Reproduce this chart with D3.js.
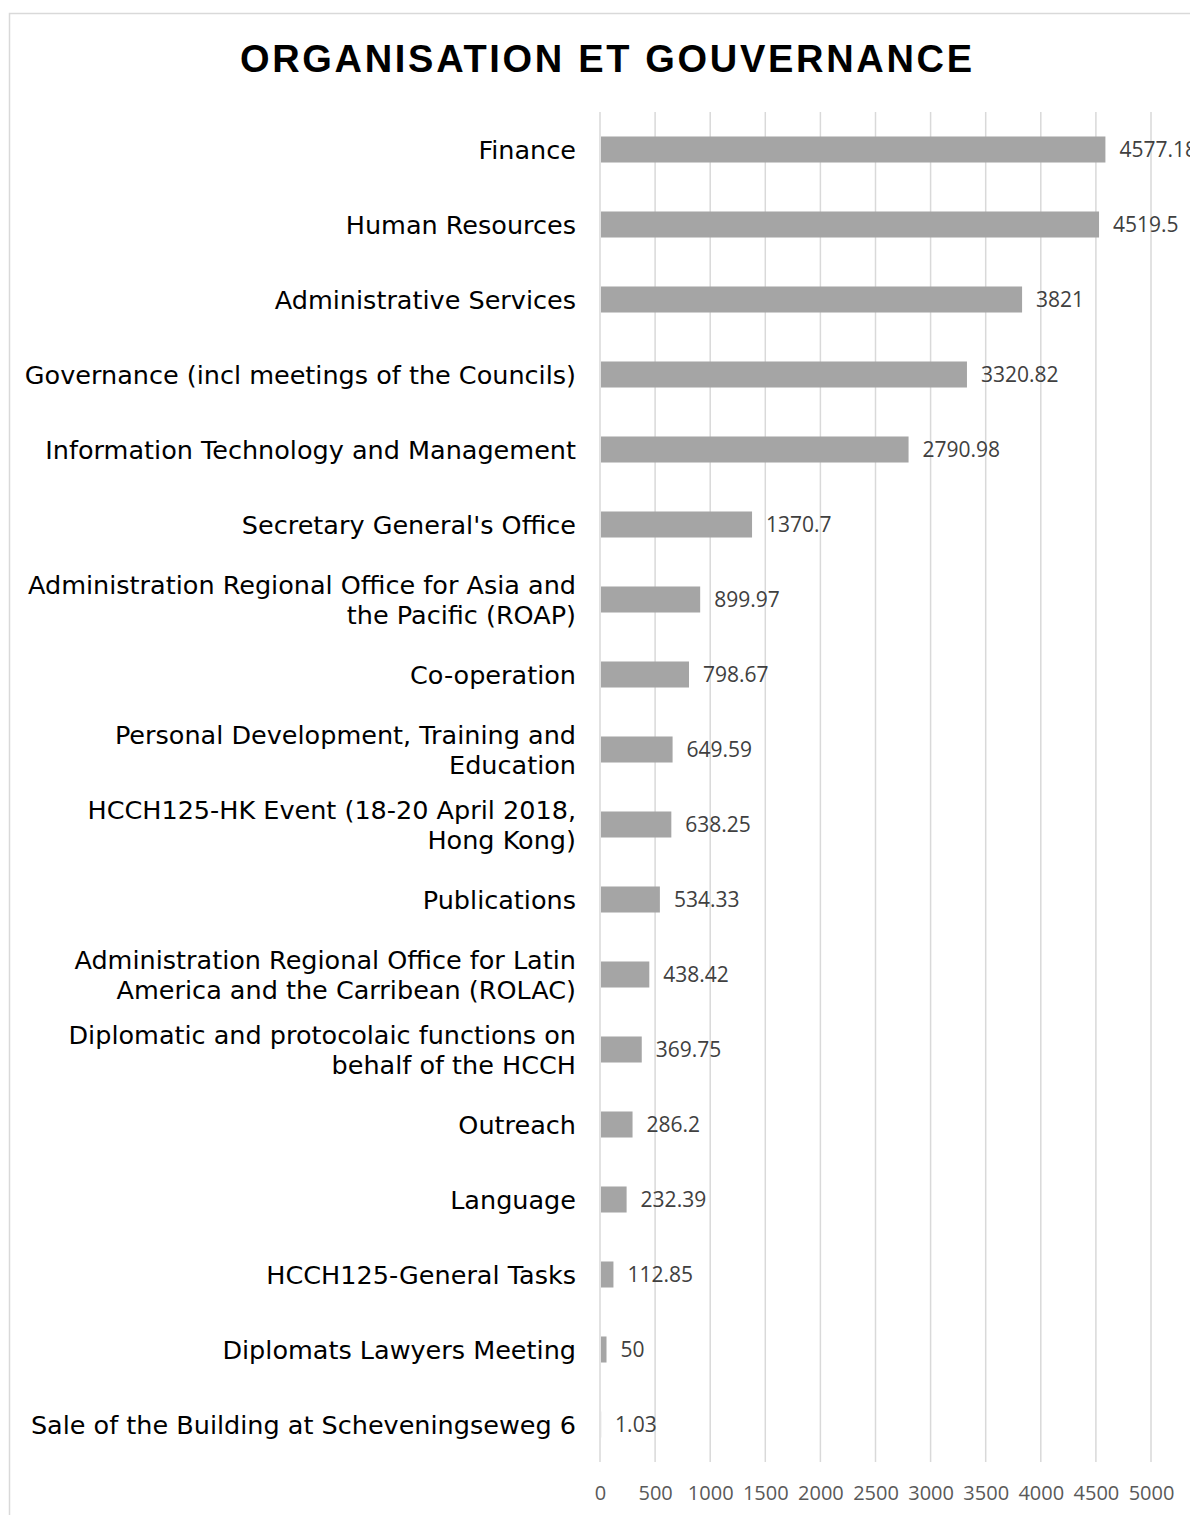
<!DOCTYPE html>
<html>
<head>
<meta charset="utf-8">
<script src="https://cdn.jsdelivr.net/npm/d3@7"></script>
<style>
  body { margin: 0; background: #fff; }
  svg { display: block; }
</style>
</head>
<body>
<svg id="chart"></svg>
<script>
// Chart data, top to bottom
const categories = [
    "Finance",
    "Human Resources",
    "Administrative Services",
    "Governance (incl meetings of the Councils)",
    "Information Technology and Management",
    "Secretary General's Office",
    "Administration Regional Office for Asia and\nthe Pacific (ROAP)",
    "Co-operation",
    "Personal Development, Training and\nEducation",
    "HCCH125-HK Event (18-20 April 2018,\nHong Kong)",
    "Publications",
    "Administration Regional Office for Latin\nAmerica and the Carribean (ROLAC)",
    "Diplomatic and protocolaic functions on\nbehalf of the HCCH",
    "Outreach",
    "Language",
    "HCCH125-General Tasks",
    "Diplomats Lawyers Meeting",
    "Sale of the Building at Scheveningseweg 6"
];
const values = [4577.18, 4519.5, 3821, 3320.82, 2790.98, 1370.7, 899.97, 798.67, 649.59,
    638.25, 534.33, 438.42, 369.75, 286.2, 232.39, 112.85, 50, 1.03];
const xTicks = [0, 500, 1000, 1500, 2000, 2500, 3000, 3500, 4000, 4500, 5000];
const title = "ORGANISATION ET GOUVERNANCE";

const W = 1190, H = 1515;
const plot = { left: 600, right: 1151, top: 112, bottom: 1462 };

const svg = d3.select("#chart").attr("width", W).attr("height", H);

// outer chart border (cut off at right and bottom)
svg.append("rect")
    .attr("x", 9.5).attr("y", 13.5)
    .attr("width", 1400).attr("height", 1700)
    .attr("fill", "#fff")
    .attr("stroke", "#d9d9d9")
    .attr("stroke-width", 1.5);

// title
svg.append("text")
    .attr("x", 606).attr("y", 72)
    .attr("text-anchor", "middle")
    .style("font-family", "'Liberation Sans', Arial, sans-serif")
    .style("font-weight", "bold")
    .style("font-size", "38px")
    .attr("textLength", 732)
    .attr("lengthAdjust", "spacing")
    .text(title);

// scales
const x = d3.scaleLinear().domain([0, 5000]).range([plot.left, plot.right]);
const y = d3.scaleBand().domain(categories).range([plot.top, plot.bottom]).paddingInner(0.653).paddingOuter(0.3265);

// gridlines
svg.append("g")
    .selectAll("line")
    .data(xTicks)
    .join("line")
    .attr("x1", d => x(d)).attr("x2", d => x(d))
    .attr("y1", plot.top).attr("y2", plot.bottom)
    .attr("stroke", "#d9d9d9")
    .attr("stroke-width", 1.5);

// x tick labels
const xAxis = svg.append("g")
    .attr("transform", `translate(0,${plot.bottom})`)
    .call(d3.axisBottom(x).tickValues(xTicks).tickFormat(d3.format("d")).tickSize(0).tickPadding(24));
xAxis.select(".domain").remove();
xAxis.selectAll("text")
    .style("font-family", "'Open Sans', sans-serif")
    .style("font-size", "20px")
    .attr("fill", "#595959");

// bars
svg.append("g")
    .selectAll("rect")
    .data(values)
    .join("rect")
    .attr("x", x(0) + 1)
    .attr("y", (d, i) => y(categories[i]))
    .attr("width", d => Math.max(0, x(d) - x(0)))
    .attr("height", y.bandwidth())
    .attr("fill", "#a5a5a5");

// data labels
svg.append("g")
    .selectAll("text")
    .data(values)
    .join("text")
    .attr("x", d => x(d) + 15)
    .attr("y", (d, i) => y(categories[i]) + y.bandwidth() / 2)
    .attr("dy", "0.36em")
    .style("font-family", "'Open Sans', sans-serif")
    .style("font-size", "21px")
    .attr("fill", "#404040")
    .text(d => d);

// category labels (right aligned, manual line breaks)
const labels = svg.append("g")
    .selectAll("text")
    .data(categories)
    .join("text")
    .attr("text-anchor", "end")
    .style("font-family", "'DejaVu Sans', sans-serif")
    .style("font-size", "25.5px")
    .attr("fill", "#000");

labels.each(function (d) {
    const lines = d.split("\n");
    const cy = y(d) + y.bandwidth() / 2;
    const lh = 30;
    d3.select(this).selectAll("tspan")
        .data(lines)
        .join("tspan")
        .attr("x", 576)
        .attr("y", (l, j) => cy + (j - (lines.length - 1) / 2) * lh)
        .attr("dy", "0.36em")
        .text(l => l);
});
</script>
</body>
</html>
